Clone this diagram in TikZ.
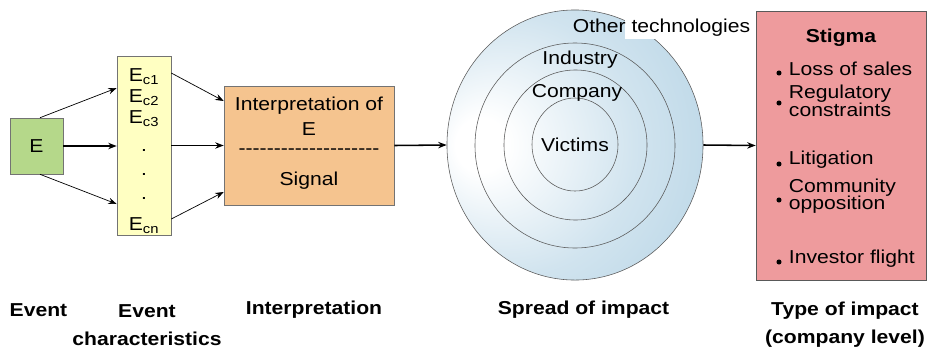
\documentclass[tikz,border=0pt]{standalone}
\usepackage{fontspec}
\setmainfont{Liberation Sans}[FakeStretch=1.13]
\usetikzlibrary{arrows.meta,shapes.geometric,calc}
\definecolor{egreen}{RGB}{181,216,138}
\definecolor{ecyellow}{RGB}{255,255,194}
\definecolor{interporange}{RGB}{245,196,143}
\definecolor{stigmared}{RGB}{238,155,157}
\definecolor{spreadblue}{RGB}{184,213,230}
\pgfdeclareradialshading{spread}{\pgfpoint{-20bp}{0bp}}{color(0bp)=(white); color(5bp)=(white); color(24bp)=(spreadblue!65!white); color(40bp)=(spreadblue); color(60bp)=(spreadblue)}
\tikzset{
  box/.style={draw=black!55, inner sep=0pt},
  ring/.style={ellipse, draw=black!65, line width=0.4pt, inner sep=0pt},
  flow/.style={-{Stealth[length=6pt,width=4.5pt]}, line width=1.1pt},
  fan/.style={-{Stealth[length=6pt,width=4.5pt]}, line width=0.5pt},
  caption/.style={font=\fontsize{13.3}{20}\selectfont\bfseries, align=center},
}
\begin{document}
\begin{tikzpicture}[x=0.025cm,y=-0.025cm,every node/.style={font=\fontsize{13.3}{12.5}\selectfont}]
\useasboundingbox (0,0) rectangle (927,350);
% event and its characteristics
\node[box, fill=egreen, minimum width=1.325cm, minimum height=1.4cm] (E) at (36.5,146) {E};
\node[box, fill=ecyellow, minimum width=1.35cm, minimum height=4.475cm] (Ec) at (144,145.5) {};
\foreach \t/\y [count=\i] in {E\textsubscript{c1}/77, E\textsubscript{c2}/98, E\textsubscript{c3}/119, ./150, ./174, ./198, E\textsubscript{cn}/226}
  \node (ec\i) at (144,\y) {\t};
% interpretation
\node[box, fill=interporange, minimum width=4.25cm, minimum height=2.975cm] (I) at (309,145.5) {};
\node (iof) at (309,106) {Interpretation of};
\node (ie) at (309,129) {E};
\node (idash) at (309,152) {-{}-{}-{}-{}-{}-{}-{}-{}-{}-{}-{}-{}-{}-{}-{}-{}-{}-{}-{}-};
\node (isig) at (309,181) {Signal};
% spread of impact
\node[ring, shade, shading=spread, minimum width=6.4cm, minimum height=6.75cm] (other) at (575,145) {};
\node[ring, minimum width=5cm, minimum height=5.125cm] (industry) at (575,145.5) {};
\node[ring, minimum width=3.575cm, minimum height=3.75cm] (company) at (575.5,145) {};
\node[ring, minimum width=2.15cm, minimum height=2.325cm] (victims) at (575,144.5) {};
\fill[white] (625,12) rectangle (752,39);
\node (otherlbl) at (661.5,28) {Other technologies};
\node (industrylbl) at (580,60) {Industry};
\node (companylbl) at (577,93) {Company};
\node (victimslbl) at (575,145) {Victims};
% type of impact
\node[box, draw=black!65, fill=stigmared, minimum width=4.25cm, minimum height=6.725cm] (S) at (841,145.5) {};
\node[font=\fontsize{13.3}{12.5}\selectfont\bfseries] (stigma) at (841,38) {Stigma};
\node[anchor=west, align=left] (loss) at (784,69) {Loss of sales};
\node[anchor=west, align=left] (reg) at (784,101) {Regulatory\\constraints};
\node[anchor=west, align=left] (lit) at (784,160) {Litigation};
\node[anchor=west, align=left] (com) at (784,196) {Community\\opposition};
\node[anchor=west, align=left] (inv) at (784,259) {Investor flight};
\foreach \y in {73,103,164,200,262}
  \fill (779,\y) circle (1.8pt);
% connectors
\draw[fan] ($(E.north)+(3.5,0)$) -- ($(Ec.west)+(0,-57.5)$);
\draw[flow] (E.east) -- (E.east -| Ec.west);
\draw[fan] ($(E.south)+(3.5,0)$) -- ($(Ec.west)+(0,58.5)$);
\draw[fan] ($(Ec.east)+(0,-72.5)$) -- ($(I.west)+(0,-44.5)$);
\draw[flow] (Ec.east) -- (I.west);
\draw[fan] ($(Ec.east)+(0,73.5)$) -- ($(I.west)+(0,46.5)$);
\draw[flow] (I.east) -- (other.west);
\draw[flow] (other.east) -- (S.west);
% captions
\node[caption] (evlbl) at (38.5,310) {Event};
\node[caption] (eclbl) at (147,325) {Event\\characteristics};
\node[caption] (inlbl) at (314,310) {Interpretation};
\node[caption] (splbl) at (583.5,310) {Spread of impact};
\node[caption] (tylbl) at (845,325) {Type of impact\\(company level)};
\end{tikzpicture}
\end{document}
